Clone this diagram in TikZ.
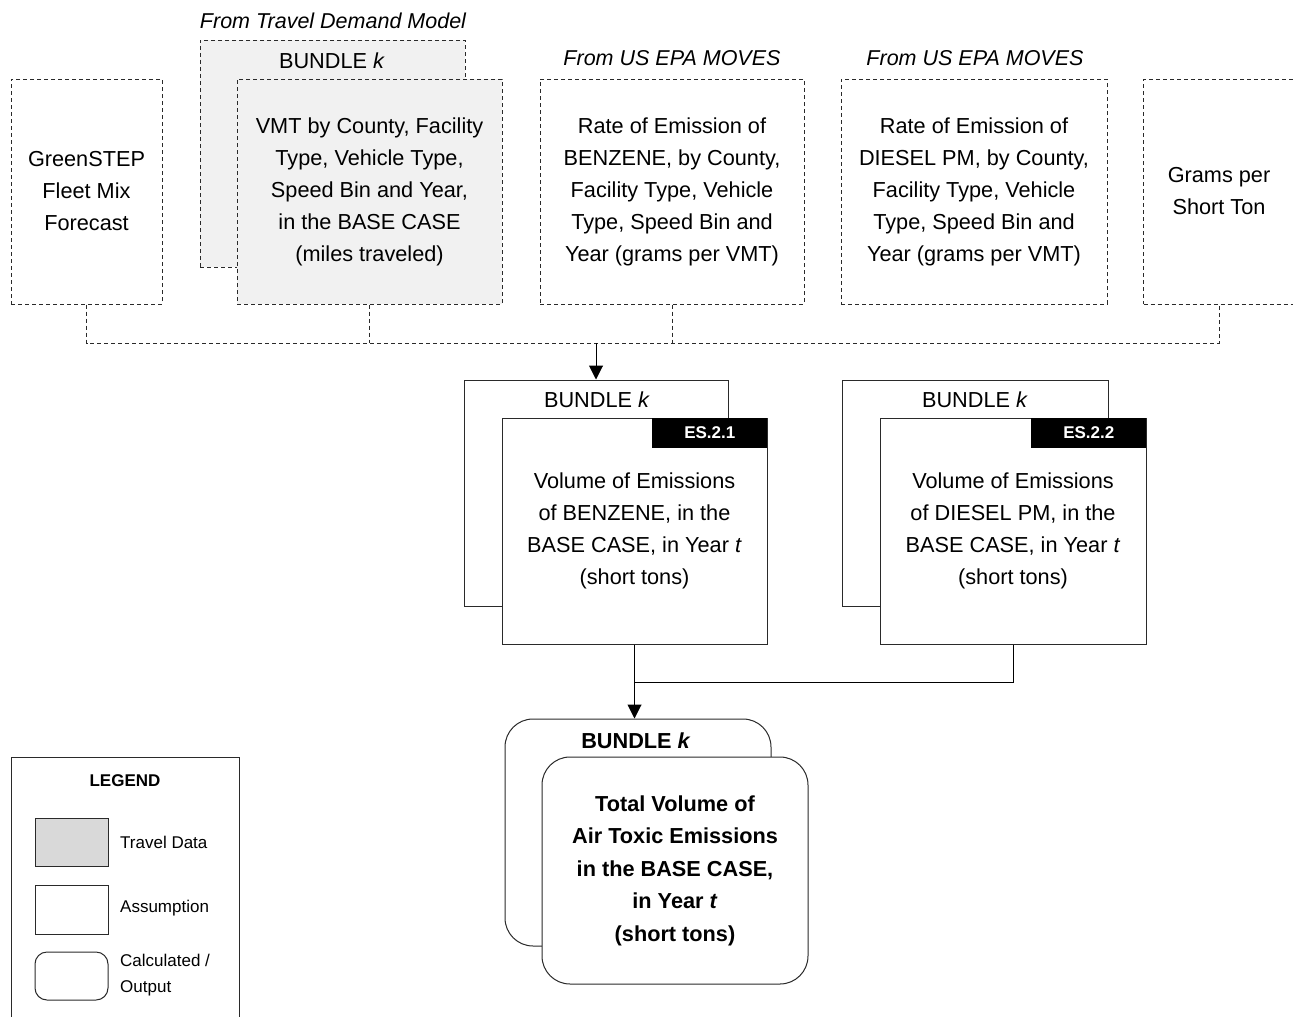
\documentclass[tikz,border=0pt]{standalone}
\usepackage{fontspec}
\setmainfont{Liberation Sans}
\usetikzlibrary{arrows.meta}
\definecolor{travelfill}{HTML}{F1F1F1}
\definecolor{swatchfill}{HTML}{D9D9D9}
\definecolor{edge}{HTML}{2A2A2A}
\begin{document}
\begin{tikzpicture}[x=1pt,y=-1pt,
  txt/.style={font=\fontsize{21.7}{32}\selectfont, align=center, inner sep=0pt},
  small/.style={font=\fontsize{17}{26}\selectfont, inner sep=0pt},
  boxbase/.style={rectangle, inner sep=0pt, line width=1pt, draw=edge, txt},
  dbox/.style={boxbase, dash pattern=on 4pt off 3pt},
  sbox/.style={boxbase, fill=white},
  rbox/.style={boxbase, fill=white, rounded corners=28pt, font=\bfseries\fontsize{21.7}{32.5}\selectfont},
  tag/.style={rectangle, fill=black, text=white, inner sep=0pt, minimum width=115pt, minimum height=30pt, font=\bfseries\fontsize{17}{20}\selectfont},
  conn/.style={draw=edge, line width=1pt, dash pattern=on 4pt off 3pt},
  flow/.style={draw=black, line width=1pt},
  arrow/.style={flow, -{Triangle[length=14pt,width=14pt]}}
]
\useasboundingbox (0,0) rectangle (1293,1017);

% ---- source headings
\node[txt, font=\itshape\fontsize{21.5}{26}\selectfont] (hdrtdm) at (333,21) {From Travel Demand Model};
\node[txt, font=\itshape\fontsize{21.5}{26}\selectfont] (hdrepa1) at (672,58) {From US EPA MOVES};
\node[txt, font=\itshape\fontsize{21.5}{26}\selectfont] (hdrepa2) at (975,58) {From US EPA MOVES};

% ---- inputs (dashed)
\node[dbox, minimum width=151pt, minimum height=225pt] (gs) at (86.5,191.5)
  {GreenSTEP\\Fleet Mix\\Forecast};
\node[dbox, fill=travelfill, minimum width=265pt, minimum height=227pt] (vmtback) at (332.5,153.5) {};
\node[txt] (vmtbundle) at (332,61) {BUNDLE \textit{k}};
\node[dbox, fill=travelfill, minimum width=265pt, minimum height=225pt] (vmt) at (369.5,191.5)
  {VMT by County, Facility\\Type, Vehicle Type,\\Speed Bin and Year,\\in the BASE CASE\\(miles traveled)};
\node[dbox, minimum width=264pt, minimum height=225pt] (benz) at (672,191.5)
  {Rate of Emission of\\BENZENE, by County,\\Facility Type, Vehicle\\Type, Speed Bin and\\Year (grams per VMT)};
\node[dbox, minimum width=266pt, minimum height=225pt] (dies) at (974,191.5)
  {Rate of Emission of\\DIESEL PM, by County,\\Facility Type, Vehicle\\Type, Speed Bin and\\Year (grams per VMT)};
\node[dbox, minimum width=151pt, minimum height=225pt] (grams) at (1219,191.5)
  {Grams per\\Short Ton};

% ---- collector bus
\coordinate (busy) at (0,343);
\draw[conn] (gs.south) -- (gs.south |- busy) -| (grams.south);
\draw[conn] (vmt.south) -- (vmt.south |- busy);
\draw[conn] (benz.south) -- (benz.south |- busy);

% ---- calculations ES.2.1 and ES.2.2
\node[sbox, minimum width=264pt, minimum height=226pt] (es1back) at (596,493) {};
\node[txt] (es1bundle) at (597,400) {BUNDLE \textit{k}};
\node[sbox, minimum width=265pt, minimum height=226pt] (es1) at (634.5,531)
  {Volume of Emissions\\of BENZENE, in the\\BASE CASE, in Year \textit{t}\\(short tons)};
\node[tag, anchor=north east] (tag1) at (es1.north east) {ES.2.1};

\node[sbox, minimum width=266pt, minimum height=226pt] (es2back) at (975,493) {};
\node[txt] (es2bundle) at (975,400) {BUNDLE \textit{k}};
\node[sbox, minimum width=266pt, minimum height=226pt] (es2) at (1013,531)
  {Volume of Emissions\\of DIESEL PM, in the\\BASE CASE, in Year \textit{t}\\(short tons)};
\node[tag, anchor=north east] (tag2) at (es2.north east) {ES.2.2};

\draw[arrow] (es1back.north |- busy) -- (es1back.north);

% ---- output
\node[rbox, minimum width=266pt, minimum height=227pt] (outback) at (638,832.5) {};
\node[txt, font=\bfseries\fontsize{21.7}{32}\selectfont] (outbundle) at (636,741) {BUNDLE \textit{k}};
\node[rbox, minimum width=266pt, minimum height=227pt] (out) at (675,870.5)
  {Total Volume of\\Air Toxic Emissions\\in the BASE CASE,\\in Year \textit{t}\\(short tons)};

\coordinate (joiny) at (0,682);
\draw[flow] (es2.south) |- (es1.south |- joiny);
\draw[flow] (es1.south) -- (es1.south |- joiny);
\draw[arrow] (es1.south |- joiny) -- (outback.north -| es1.south);

% ---- legend
\draw[draw=edge, line width=1pt] (11.5,1018) -- (11.5,757) -- (239,757) -- (239,1018);
\node[small, font=\bfseries\fontsize{17}{20}\selectfont] (lgtitle) at (125,781) {LEGEND};
\node[rectangle, draw=edge, line width=1pt, fill=swatchfill, minimum width=73pt, minimum height=48pt, inner sep=0pt] (lgtravel) at (71.5,842) {};
\node[small, anchor=west] (lgtraveltxt) at (120,842) {Travel Data};
\node[rectangle, draw=edge, line width=1pt, minimum width=73pt, minimum height=49pt, inner sep=0pt] (lgassume) at (71.5,909.5) {};
\node[small, anchor=west] (lgassumetxt) at (120,908) {Assumption};
\node[rectangle, draw=edge, line width=1pt, rounded corners=12pt, minimum width=73pt, minimum height=48pt, inner sep=0pt] (lgcalc) at (71.5,976) {};
\node[small, anchor=west, align=left] (lgcalctxt) at (120,975) {Calculated /\\Output};
\end{tikzpicture}
\end{document}
